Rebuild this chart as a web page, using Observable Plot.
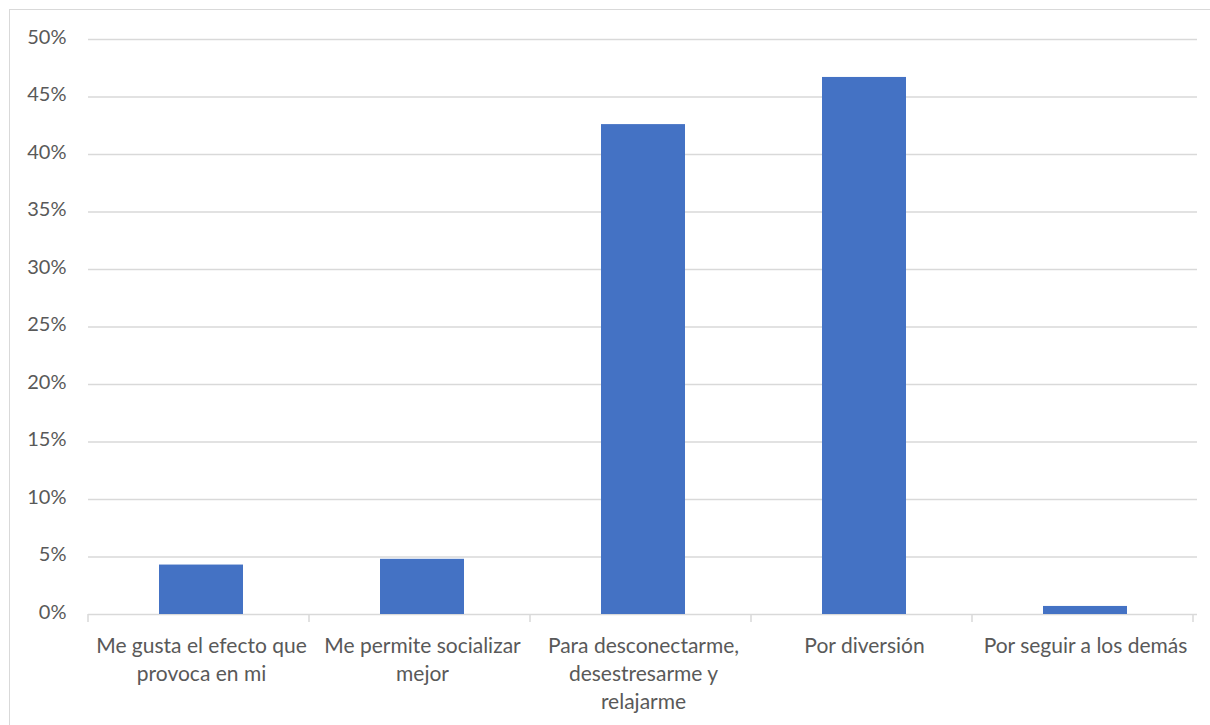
<!DOCTYPE html>
<html>
<head>
<meta charset="utf-8">
<script src="https://cdn.jsdelivr.net/npm/d3@7"></script>
<script src="https://cdn.jsdelivr.net/npm/@observablehq/plot@0.6"></script>
<style>
  html, body { margin: 0; padding: 0; background: #fff; }
  #wrap { position: relative; width: 1210px; height: 725px; overflow: hidden; }
  #frame { position: absolute; left: 9px; top: 9px; width: 1220px; height: 740px;
           border: 1.5px solid #d9d9d9; pointer-events: none; }
</style>
</head>
<body>
<div id="wrap"><div id="frame"></div></div>
<script>
// Reasons for consumption, share of respondents
const categories = [
  "Me gusta el efecto que provoca en mi",
  "Me permite socializar mejor",
  "Para desconectarme, desestresarme y relajarme",
  "Por diversión",
  "Por seguir a los demás"
];
const values = [0.043, 0.048, 0.426, 0.467, 0.007];
const tickLabels = [
  "Me gusta el efecto que\nprovoca en mi",
  "Me permite socializar\nmejor",
  "Para desconectarme,\ndesestresarme y\nrelajarme",
  "Por diversión",
  "Por seguir a los demás"
];
const yTicks = [0, 0.05, 0.10, 0.15, 0.20, 0.25, 0.30, 0.35, 0.40, 0.45, 0.50];

const rows = categories.map((c, i) => ({category: c, value: values[i], label: tickLabels[i]}));

const textColor = "#595959";
const gridColor = "#d9d9d9";
const font = "Lato, 'Open Sans', sans-serif";

const plot = Plot.plot({
  width: 1210,
  height: 725,
  marginLeft: 88,
  marginRight: 13,
  marginTop: 39,
  marginBottom: 111,
  style: {fontFamily: font, fontSize: "20px", color: textColor, background: "transparent"},
  x: {domain: categories, paddingInner: 0.62, paddingOuter: 0.31, label: null, axis: null},
  y: {domain: [0, 0.5], label: null},
  marks: [
    Plot.ruleY(yTicks, {stroke: gridColor, strokeWidth: 1.5}),
    Plot.axisY(yTicks, {
      tickSize: 0, tickPadding: 22, dy: -2,
      tickFormat: d3.format(".0%"), fill: textColor, fontSize: 20, label: null
    }),
    Plot.barY(rows, {x: "category", y: "value", fill: "#4472c4"}),
    Plot.text(rows, {
      x: "category", text: "label", frameAnchor: "bottom",
      lineAnchor: "top", dy: 18, lineHeight: 1.35,
      fill: textColor, fontSize: 21
    })
  ]
});

// Category separator ticks under the baseline
const xs = plot.scale("x");
const ys = plot.scale("y");
const y0 = ys.apply(0);
const svg = d3.select(plot);
const g = svg.append("g").attr("stroke", gridColor).attr("stroke-width", 1.5);
for (let i = 0; i <= categories.length; i++) {
  const xb = xs.range[0] + i * xs.step;
  g.append("line").attr("x1", xb).attr("x2", xb).attr("y1", y0).attr("y2", y0 + 8);
}

document.getElementById("wrap").prepend(plot);
</script>
</body>
</html>
